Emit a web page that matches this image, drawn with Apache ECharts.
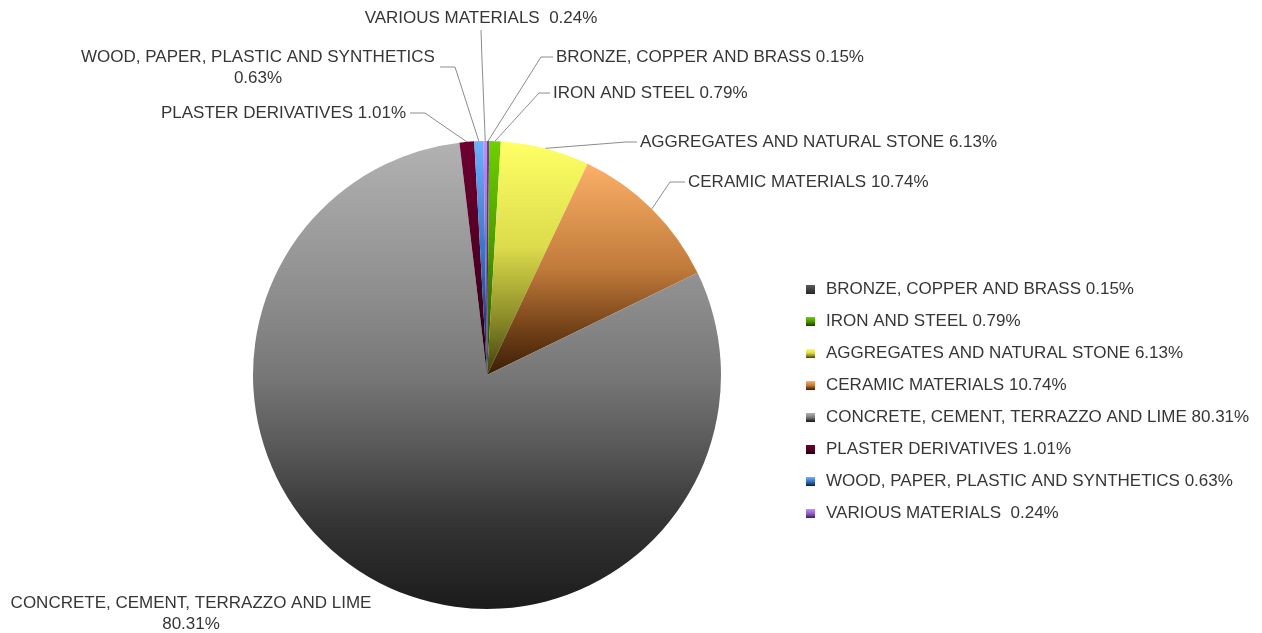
<!DOCTYPE html>
<html>
<head>
<meta charset="utf-8">
<script src="https://cdn.jsdelivr.net/npm/echarts@6/dist/echarts.min.js"></script>
<style>
html,body{margin:0;padding:0;background:#fff;}
#c{width:1262px;height:633px;}
</style>
</head>
<body>
<div id="c"></div>
<script>
// ---- data ----
var categories = [
  'BRONZE, COPPER AND BRASS',
  'IRON AND STEEL',
  'AGGREGATES AND NATURAL STONE',
  'CERAMIC MATERIALS',
  'CONCRETE, CEMENT, TERRAZZO AND LIME',
  'PLASTER DERIVATIVES',
  'WOOD, PAPER, PLASTIC AND SYNTHETICS',
  'VARIOUS MATERIALS '
];
var values = [0.15, 0.79, 6.13, 10.74, 80.31, 1.01, 0.63, 0.24];

// ---- styles (gradient top -> bottom per slice) ----
var sliceStops = [
  [[0, '#5a5a5a'], [1, '#262626']],
  [[0, '#6fd000'], [0.5, '#4c9400'], [1, '#1e3a00']],
  [[0, '#ffff66'], [0.45, '#dcdc4c'], [0.75, '#8e8e2a'], [1, '#3e3e0e']],
  [[0, '#fcb068'], [0.5, '#c07a3a'], [0.8, '#6e3e16'], [1, '#3a1e06']],
  [[0, '#b2b2b2'], [0.34, '#8c8c8c'], [0.5, '#777777'], [0.66, '#575757'], [0.81, '#353535'], [1, '#1b1b1b']],
  [[0, '#6e0032'], [0.6, '#4a0020'], [1, '#1c000a']],
  [[0, '#6cb2ff'], [0.5, '#3a70c0'], [1, '#0c1c44']],
  [[0, '#c98cff'], [0.5, '#9060c8'], [1, '#3a1c5a']]
];
function grad(stops) {
  return new echarts.graphic.LinearGradient(0, 0, 0, 1,
    stops.map(function (s) { return { offset: s[0], color: s[1] }; }));
}

// label placement (layout only)
var labelPlace = [
  { x: 556, y: 57, align: 'left', bend: [541, 57], end: [553, 57] },
  { x: 553, y: 93, align: 'left', bend: [539, 93], end: [550, 93] },
  { x: 640, y: 142, align: 'left', bend: [626, 142], end: [637, 142] },
  { x: 688, y: 182, align: 'left', bend: [670, 182], end: [685, 182] },
  { x: 191, y: 614, align: 'center', noLine: true },
  { x: 406, y: 113, align: 'right', bend: [425, 113], end: [410, 113] },
  { x: 258, y: 68, align: 'center', bend: [455, 67], end: [440, 67] },
  { x: 481, y: 18, align: 'center', bend: [482, 60], end: [481, 30] }
];
var wrapIdx = { 4: true, 6: true };

var seriesData = categories.map(function (n, i) {
  return {
    name: n,
    value: values[i],
    itemStyle: { color: grad(sliceStops[i]) },
    labelLine: { show: !labelPlace[i].noLine }
  };
});

var chart = echarts.init(document.getElementById('c'), null, { renderer: 'canvas' });
var font = '"Liberation Sans", Arial, sans-serif';
chart.setOption({
  animation: false,
  legend: {
    orient: 'vertical',
    left: 806,
    top: 281,
    padding: 0,
    itemWidth: 9,
    itemHeight: 9,
    itemGap: 15,
    icon: 'rect',
    selectedMode: false,
    textStyle: {
      fontFamily: font,
      fontSize: 17,
      lineHeight: 17,
      color: '#363636',
      padding: [0, 0, 0, 6]
    },
    formatter: function (name) {
      var i = categories.indexOf(name);
      return name + ' ' + values[i].toFixed(2) + '%';
    }
  },
  series: [{
    type: 'pie',
    center: [487, 375],
    radius: 234,
    startAngle: 90,
    clockwise: true,
    avoidLabelOverlap: false,
    minAngle: 0,
    emphasis: { disabled: true },
    itemStyle: { borderWidth: 0 },
    label: {
      show: true,
      position: 'outside',
      fontFamily: font,
      fontSize: 17,
      lineHeight: 21,
      color: '#363636',
      formatter: function (p) {
        var sep = wrapIdx[p.dataIndex] ? '\n' : ' ';
        return p.name + sep + values[p.dataIndex].toFixed(2) + '%';
      }
    },
    labelLine: {
      show: true,
      length: 10,
      length2: 10,
      lineStyle: { color: '#8c8c8c', width: 1 }
    },
    labelLayout: function (params) {
      var lp = labelPlace[params.dataIndex];
      var res = { x: lp.x, y: lp.y, align: lp.align, verticalAlign: 'middle' };
      if (!lp.noLine && params.labelLinePoints) {
        var p0 = params.labelLinePoints[0];
        res.labelLinePoints = [p0, lp.bend, lp.end];
      }
      return res;
    },
    data: seriesData
  }]
});
</script>
</body>
</html>
